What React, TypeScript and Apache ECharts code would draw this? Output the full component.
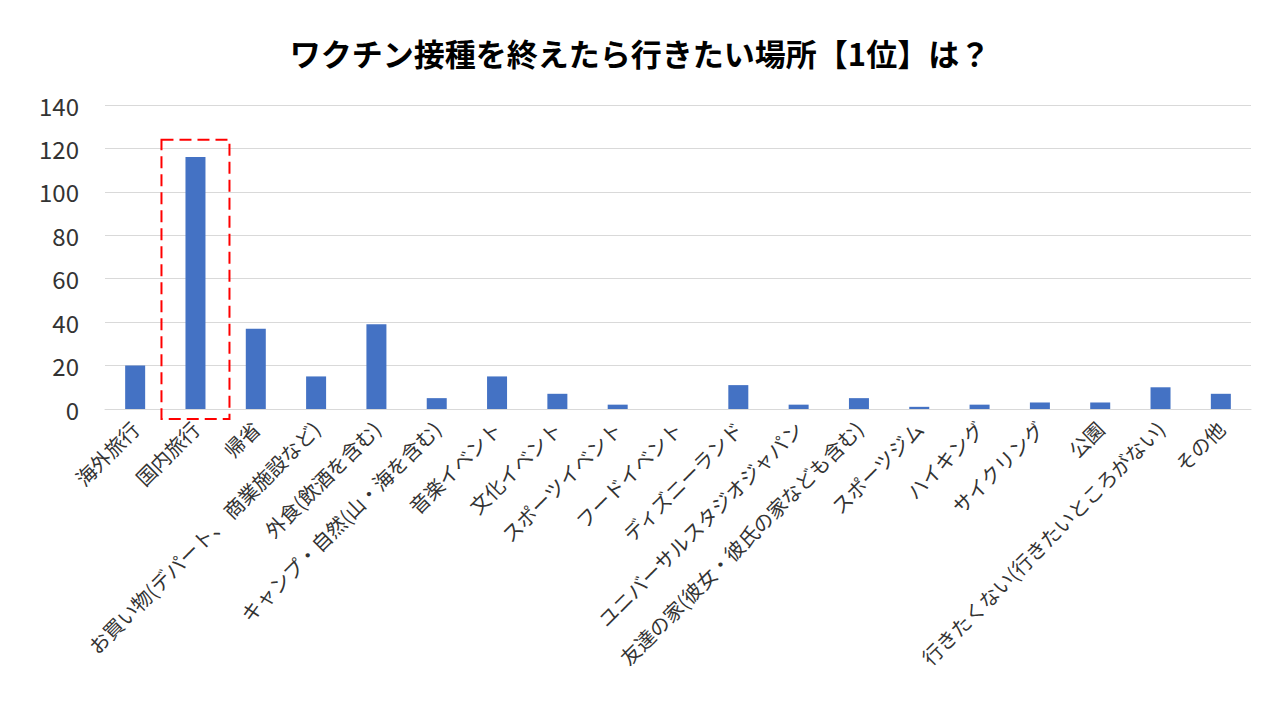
import React, { useEffect, useRef } from "react";
import * as echarts from "echarts";

const title = "ワクチン接種を終えたら行きたい場所【1位】は？";
const categories = [
  "海外旅行",
  "国内旅行",
  "帰省",
  "お買い物(デパート、 商業施設など)",
  "外食(飲酒を含む)",
  "キャンプ・自然(山・海を含む)",
  "音楽イベント",
  "文化イベント",
  "スポーツイベント",
  "フードイベント",
  "ディズニーランド",
  "ユニバーサルスタジオジャパン",
  "友達の家(彼女・彼氏の家なども含む)",
  "スポーツジム",
  "ハイキング",
  "サイクリング",
  "公園",
  "行きたくない(行きたいところがない)",
  "その他",
];
const values = [20, 116, 37, 15, 39, 5, 15, 7, 2, 0, 11, 2, 5, 1, 2, 3, 3, 10, 7];
const yMin = 0;
const yMax = 140;
const yInterval = 20;
const highlightCategory = "国内旅行";

const FONT = '"Noto Sans CJK JP", "Noto Sans", sans-serif';

export default function App() {
  const ref = useRef<HTMLDivElement>(null);
  useEffect(() => {
    document.body.style.margin = "0";
    const chart = echarts.init(ref.current!, null, { renderer: "svg" });
    chart.setOption({
      animation: false,
      backgroundColor: "#ffffff",
      textStyle: { fontFamily: FONT },
      title: {
        text: title,
        left: "center",
        top: 32,
        textStyle: { fontFamily: FONT, fontSize: 31, fontWeight: "bold", color: "#000000" },
      },
      grid: { left: 105, right: 29, top: 105, bottom: 311, containLabel: false },
      xAxis: {
        type: "category",
        data: categories,
        axisLine: { show: true, lineStyle: { color: "#d9d9d9", width: 1 } },
        axisTick: { show: false },
        axisLabel: {
          interval: 0,
          rotate: 45,
          fontSize: 20,
          color: "#333333",
          fontFamily: FONT,
          margin: 16,
        },
      },
      yAxis: {
        type: "value",
        min: yMin,
        max: yMax,
        interval: yInterval,
        axisLine: { show: false },
        axisTick: { show: false },
        splitLine: { lineStyle: { color: "#d9d9d9", width: 1 } },
        axisLabel: { fontSize: 24, color: "#333333", fontFamily: FONT, margin: 26 },
      },
      series: [
        {
          type: "bar",
          data: values,
          barWidth: 20,
          itemStyle: { color: "#4472c4" },
        },
      ],
    });
    // Red dashed box around the highlighted category, placed via the chart's scales
    const idx = categories.indexOf(highlightCategory);
    const center = chart.convertToPixel({ xAxisIndex: 0 }, idx) as number;
    const topPx = chart.convertToPixel({ yAxisIndex: 0 }, 124) as number;
    const zeroPx = chart.convertToPixel({ yAxisIndex: 0 }, 0) as number;
    chart.setOption({
      graphic: [
        {
          type: "rect",
          shape: { x: center - 34, y: topPx, width: 68, height: zeroPx + 10 - topPx },
          style: { fill: "none", stroke: "#ff0000", lineWidth: 2, lineDash: [12, 6] },
          z: 10,
        },
      ],
    });
    return () => chart.dispose();
  }, []);
  return <div ref={ref} style={{ width: 1280, height: 720 }} />;
}
